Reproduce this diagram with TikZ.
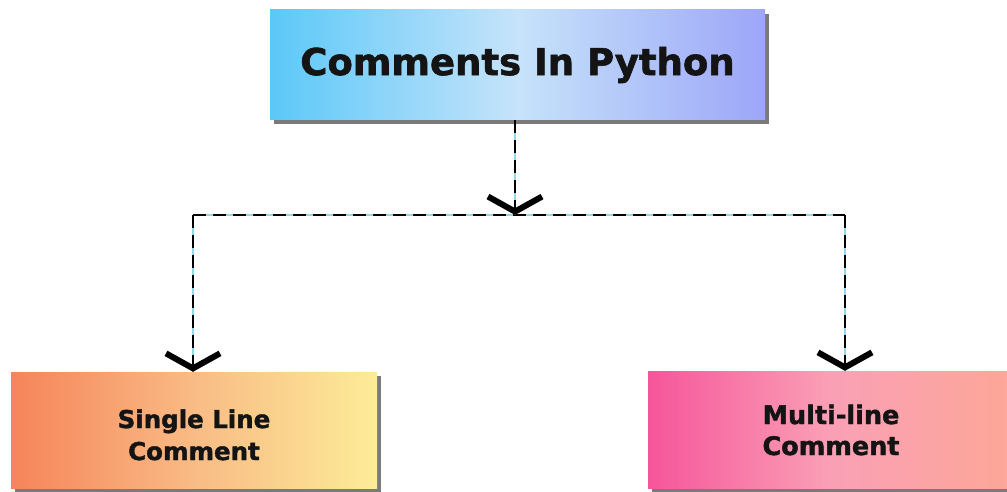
\documentclass[tikz,border=0pt]{standalone}
\usepackage{fontspec}
\newfontfamily\vfont{DejaVu Sans}[BoldFeatures={FakeBold=1.6}]
\usetikzlibrary{arrows.meta,shadows}
\definecolor{tl}{HTML}{5BC8F8}
\definecolor{tm}{HTML}{C6E3FA}
\definecolor{tr}{HTML}{9DA6F8}
\definecolor{ll}{HTML}{F6845A}
\definecolor{lm}{HTML}{F9BB85}
\definecolor{lr}{HTML}{FCEC98}
\definecolor{rl}{HTML}{F6559A}
\definecolor{rm}{HTML}{FAA0B6}
\definecolor{rr}{HTML}{FCA797}
\definecolor{lineblue}{HTML}{8FD8EE}
% #1: baseline of last line below the centre, #2: line distance
\newcommand\twolines[4]{\raisebox{-#1}[0pt][0pt]{\vbox{\baselineskip=#2\halign{\hfil##\hfil\cr #3\cr #4\cr}}}}
\tikzset{
  box/.style={rectangle, inner sep=0pt, text=black!92,
    drop shadow={shadow xshift=4pt, shadow yshift=-4pt, fill=black!65, opacity=0.8}},
  conn/.style={draw=black, line width=1.8pt, dash pattern=on 13pt off 7pt,
    preaction={draw=lineblue, solid, line width=1.5pt, arrows=-}},
  chev/.style={-{Straight Barb[length=15pt, width=54pt, line width=6pt]}}
}
\begin{document}
\begin{tikzpicture}[x=1pt,y=-1pt]
\useasboundingbox (0,0) rectangle (1007,492);
\clip (0,0) rectangle (1007,492);
\node[box, minimum width=495pt, minimum height=110pt, left color=tl, right color=tr, middle color=tm,
  font=\vfont\bfseries\fontsize{37}{44}\selectfont] (top) at (517.5,65) {Comments In Python};
\node[box, minimum width=366pt, minimum height=116pt, left color=ll, right color=lr, middle color=lm,
  font=\vfont\bfseries\fontsize{24.5}{32}\selectfont] (single) at (194,430) {\twolines{30pt}{32pt}{Single Line}{Comment}};
\node[box, minimum width=366pt, minimum height=117pt, left color=rl, right color=rr, middle color=rm,
  font=\vfont\bfseries\fontsize{25.5}{31}\selectfont] (multi) at (831,429.5) {\twolines{25.5pt}{31pt}{Multi-line}{Comment}};
\coordinate (j) at (515,215);
\coordinate (hl) at (193,215);
\coordinate (hr) at (845,215);
\draw[conn] (hl) -- (hr);
\draw[conn, chev] (top.south -| j) -- (j);
\draw[conn, chev] (hl) -- (hl |- single.north);
\draw[conn, chev] (hr) -- (hr |- multi.north);
\end{tikzpicture}
\end{document}
